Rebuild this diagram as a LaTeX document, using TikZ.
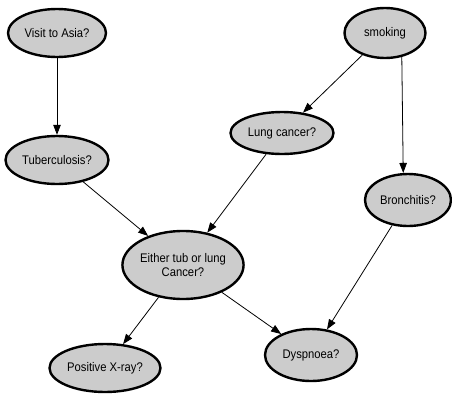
\documentclass[tikz,border=0pt]{standalone}
\usepackage{fontspec}
\setmainfont{Liberation Sans}[FakeStretch=0.9]
\usetikzlibrary{shapes.geometric, arrows.meta}

\begin{document}
\begin{tikzpicture}[
    x=1pt, y=-1pt,
    var/.style={ellipse, draw, line width=2.4pt, fill=black!20, inner sep=0pt, font=\fontsize{12.5}{14.5}\selectfont, align=center},
    link/.style={-{Triangle[length=10pt,width=7.5pt]}, line width=0.8pt}
]
\useasboundingbox (0,0) rectangle (452,394);

\node (asia) [var, minimum width=98pt, minimum height=48pt] at (57,33) {Visit to Asia?};
\node (smoke) [var, minimum width=81pt, minimum height=50pt] at (385,33) {smoking};
\node (tub) [var, minimum width=103pt, minimum height=48pt] at (57,160) {Tuberculosis?};
\node (lung) [var, minimum width=103pt, minimum height=42pt] at (282,133) {Lung cancer?};
\node (bronc) [var, minimum width=86pt, minimum height=52pt] at (408,200) {Bronchitis?};
\node (either) [var, minimum width=118pt, minimum height=68pt] at (183,265) {Either tub or lung\\Cancer?};
\node (xray) [var, minimum width=111pt, minimum height=48pt] at (105,368) {Positive X-ray?};
\node (dysp) [var, minimum width=92pt, minimum height=52pt] at (311,355) {Dyspnoea?};

\draw[link] (asia) -- (tub);
\draw[link] (smoke) -- (lung);
\draw[link] (smoke.-55) -- (bronc.100);
\draw[link] (tub) -- (either);
\draw[link] (lung) -- (either);
\draw[link] (either) -- (xray);
\draw[link] (either) -- (dysp);
\draw[link] (bronc) -- (dysp);

\end{tikzpicture}
\end{document}
